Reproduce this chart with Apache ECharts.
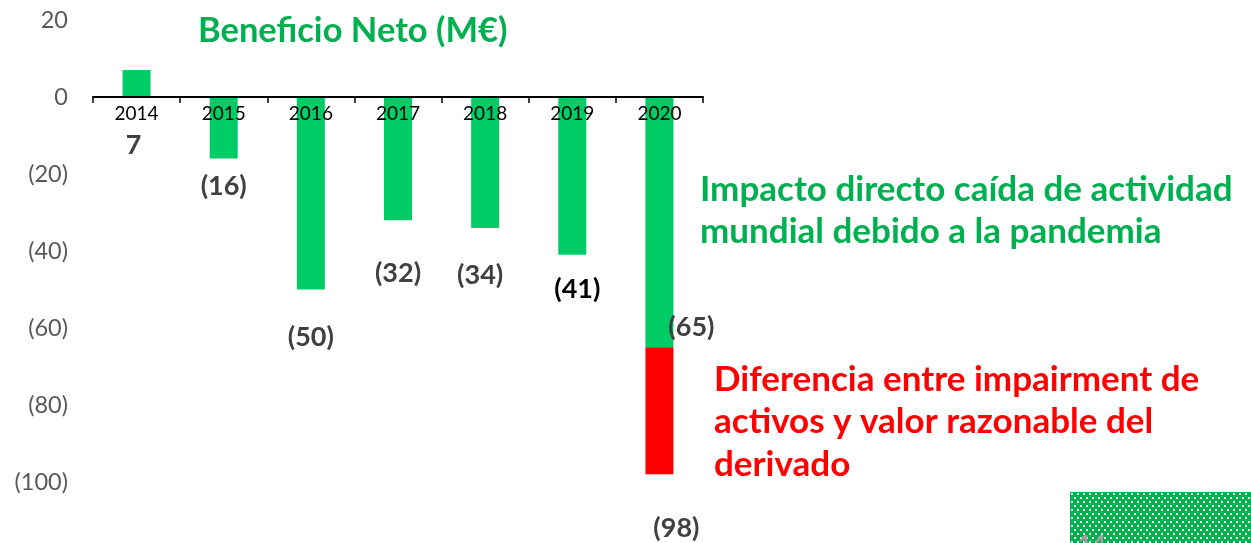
<!DOCTYPE html>
<html>
<head>
<meta charset="utf-8">
<script src="https://cdn.jsdelivr.net/npm/echarts@6/dist/echarts.min.js"></script>
<style>
html,body{margin:0;padding:0;background:#fff;}
#chart{width:1251px;height:543px;}
</style>
</head>
<body>
<div id="chart"></div>
<script>
const years = ['2014','2015','2016','2017','2018','2019','2020'];
const netProfit = [7, -16, -50, -32, -34, -41, -65];
const impairmentDiff = ['-', '-', '-', '-', '-', '-', -33];
const totalLabels = ['7','(16)','(50)','(32)','(34)','(41)','(65)'];
const impairmentLabel = '(98)';
const yTicks = {min: -100, max: 20, step: 20};
const titleText = 'Beneficio Neto (M€)';
const noteGreen = 'Impacto directo caída de actividad\nmundial debido a la pandemia';
const noteRed = 'Diferencia entre impairment de\nactivos y valor razonable del\nderivado';

const FONT = 'Lato';
const chart = echarts.init(document.getElementById('chart'), null, {renderer: 'canvas'});

// layout (styling)
const GRID = {left: 93, right: 548, top: 20, bottom: 61};
const gridH = 543 - GRID.top - GRID.bottom;
const zeroOffset = -gridH * (0 - yTicks.min) / (yTicks.max - yTicks.min);

// label offsets (styling, relative to bar centre)
const greenOffsets = [[-3,62],[0,58],[0,144],[0,115],[-5,113],[5,113],[32,105]];
const greenLabelColors = ['#404040','#404040','#404040','#404040','#404040','#000000','#404040'];

// dotted pattern canvas
const pc = document.createElement('canvas');
pc.width = 6; pc.height = 8;
const pctx = pc.getContext('2d');
pctx.fillStyle = '#00B050';
pctx.fillRect(0,0,6,8);
pctx.fillStyle = '#EAF8EF';
pctx.fillRect(1,1,2,2);
pctx.fillRect(4,5,2,2);

const option = {
  animation: false,
  backgroundColor: '#fff',
  grid: Object.assign({containLabel: false}, GRID),
  xAxis: {
    type: 'category',
    data: years,
    z: 5,
    offset: zeroOffset,
    axisLine: {show: true, onZero: false, lineStyle: {color: '#000', width: 2}},
    axisTick: {show: true, length: 6, lineStyle: {color: '#000', width: 1.5}},
    axisLabel: {color: '#000', fontSize: 19, fontFamily: FONT, margin: 7},
    splitLine: {show: false}
  },
  yAxis: {
    type: 'value',
    min: yTicks.min, max: yTicks.max, interval: yTicks.step,
    axisLine: {show: false},
    axisTick: {show: false},
    splitLine: {show: false},
    axisLabel: {
      color: '#595959', fontSize: 23.5, fontFamily: FONT, margin: 25,
      formatter: v => v < 0 ? '(' + (-v) + ')' : String(v)
    }
  },
  series: [
    {
      type: 'bar',
      stack: 'total',
      barWidth: 28,
      z: 2,
      itemStyle: {color: '#00CC66'},
      data: netProfit.map((v, i) => ({
        value: v,
        label: {offset: greenOffsets[i], color: greenLabelColors[i], formatter: totalLabels[i]}
      })),
      label: {
        show: true, position: 'inside', fontSize: 27, fontWeight: 'bold',
        fontFamily: FONT, color: '#404040'
      }
    },
    {
      type: 'bar',
      stack: 'total',
      barWidth: 28,
      z: 2,
      itemStyle: {color: '#FF0000'},
      data: impairmentDiff,
      label: {
        show: true, position: 'inside', offset: [17, 118], fontSize: 27, fontWeight: 'bold',
        fontFamily: FONT, color: '#404040', formatter: impairmentLabel
      }
    }
  ],
  graphic: [
    {
      type: 'text', x: 198, y: 31,
      style: {text: titleText, fill: '#00B050', font: 'bold 34.5px ' + FONT, verticalAlign: 'middle'}
    },
    {
      type: 'text', x: 700, y: 211,
      style: {text: noteGreen, fill: '#00B050', font: 'bold 35px ' + FONT, lineHeight: 42, verticalAlign: 'middle'}
    },
    {
      type: 'text', x: 714, y: 422,
      style: {text: noteRed, fill: '#FF0000', font: 'bold 35px ' + FONT, lineHeight: 42.5, verticalAlign: 'middle'}
    },
    {
      type: 'rect', x: 1070, y: 492,
      shape: {width: 181, height: 51},
      style: {fill: {image: pc, repeat: 'repeat'}}
    },
    {
      type: 'text', x: 1078, y: 533,
      style: {text: '14', fill: '#A0A0A0', font: 'bold 24px ' + FONT}
    }
  ]
};
chart.setOption(option);
</script>
</body>
</html>
